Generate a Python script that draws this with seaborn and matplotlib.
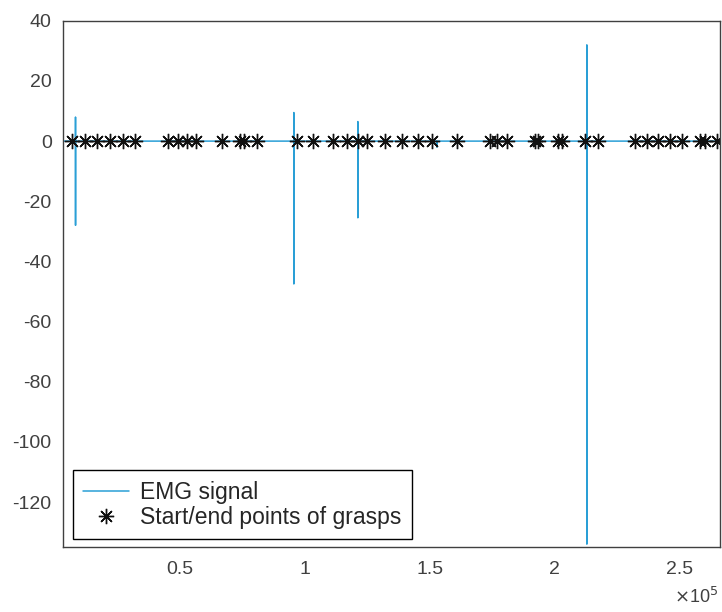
import numpy as np
import pandas as pd
import seaborn as sns
import matplotlib.pyplot as plt
from matplotlib.ticker import FuncFormatter

# EMG signal (sample index, amplitude) - flat except for a few artifact spikes
emg_x = [3200, 8270, 8280, 8290, 8300,
         95590, 95600, 95610, 95620,
         121190, 121200, 121210, 121220,
         152700, 152800, 152900,
         212790, 212800, 212810, 212820,
         266000]
emg_y = [0, 0, 8, -28, 0,
         0, 9.5, -47.5, 0,
         0, 6.5, -25.5, 0,
         0, -2, 0,
         0, 32, -134, 0,
         0]

# start/end points of grasps (sample index)
grasp_x = [6800, 12000, 16800, 22000, 27200, 32000,
           45200, 49200, 52800, 56400, 66800, 74000, 75600, 80800,
           96800, 103200, 111200, 116800, 121200, 124800, 132000,
           138800, 145200, 150800, 160800, 174000, 176800, 180800,
           192000, 193200, 201200, 202800, 212000, 217200,
           232000, 236800, 241200, 246000, 250800, 258000, 260000, 264800]
grasp_y = [0] * len(grasp_x)

sns.set_style("white")
plt.rcParams['font.family'] = ['Liberation Sans', 'DejaVu Sans']
plt.rcParams['axes.unicode_minus'] = False

fig = plt.figure(figsize=(7.22, 6.12), dpi=100)
ax = fig.add_axes([0.087, 0.106, 0.910, 0.860])

senal = pd.DataFrame({'muestra': emg_x, 'amplitud': emg_y})
sns.lineplot(data=senal, x='muestra', y='amplitud', sort=False, estimator=None,
             color='#2a9fd6', linewidth=1.1, label='EMG signal', ax=ax)
sns.lineplot(x=grasp_x, y=grasp_y, color='black', linestyle='none', marker=(8, 2, 0),
             markersize=11, markeredgewidth=1.0, markeredgecolor='#111111',
             label='Start/end points of grasps', ax=ax)

ax.set_xlim(3200, 266000)
ax.set_ylim(-135, 40)
ax.set_yticks(np.arange(-120, 41, 20))
ax.set_xticks([50000, 100000, 150000, 200000, 250000])
ax.xaxis.set_major_formatter(FuncFormatter(lambda v, p: f'{v / 1e5:g}'))
ax.text(0.998, -0.094, r'$\times$10$^5$', transform=ax.transAxes, ha='right', va='center',
        fontsize=13, color='#404040')
ax.set_xlabel('')
ax.set_ylabel('')

ax.tick_params(direction='in', length=5, width=1, colors='#404040', labelsize=14, pad=8)
ax.tick_params(axis='x', pad=10)
for s in ax.spines.values():
    s.set_color('#404040')
    s.set_linewidth(1)

leg = ax.legend(loc='lower left', fontsize=16.5, frameon=True, fancybox=False,
                edgecolor='black', framealpha=1, borderpad=0.45, handlelength=2.0,
                handletextpad=0.5, labelspacing=0.1, borderaxespad=0,
                bbox_to_anchor=(0.015, 0.015))
leg.get_frame().set_linewidth(1)

fig.savefig('out.png', dpi=100)
